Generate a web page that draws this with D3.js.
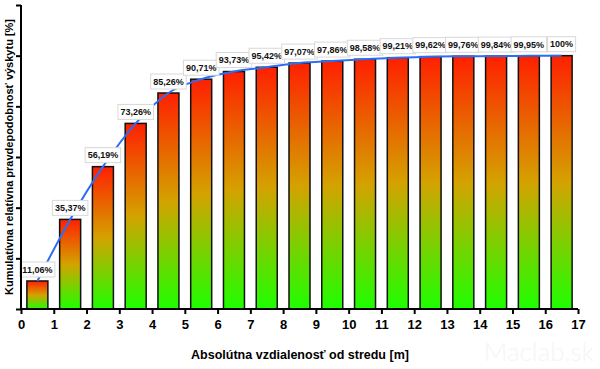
<!DOCTYPE html>
<html><head><meta charset="utf-8">
<script src="https://cdn.jsdelivr.net/npm/d3@7"></script>
<style>body{margin:0;background:#fff}svg{display:block;font-family:"Liberation Sans",Arial,sans-serif}</style>
</head><body><svg id="c" width="600" height="369"></svg>
<script>
const categories = [0.5,1.5,2.5,3.5,4.5,5.5,6.5,7.5,8.5,9.5,10.5,11.5,12.5,13.5,14.5,15.5,16.5];
const values = [11.06,35.37,56.19,73.26,85.26,90.71,93.73,95.42,97.07,97.86,98.58,99.21,99.62,99.76,99.84,99.95,100];
const labels = ["11,06%","35,37%","56,19%","73,26%","85,26%","90,71%","93,73%","95,42%","97,07%","97,86%","98,58%","99,21%","99,62%","99,76%","99,84%","99,95%","100%"];
const xTicks = [0,1,2,3,4,5,6,7,8,9,10,11,12,13,14,15,16,17];
const yTicks = [0,20,40,60,80,100,120];
const xTitle = "Absolútna vzdialenosť od stredu [m]";
const yTitle = "Kumulatívna relatívna pravdepodobnosť výskytu [%]";

const svg = d3.select("#c");
const x = d3.scaleLinear().domain([0,17]).range([21,578]);
const y = d3.scaleLinear().domain([0,120]).range([309,5]);
const barW = 21;

const defs = svg.append("defs");
const g = defs.append("linearGradient").attr("id","grad").attr("x1",0).attr("y1",0).attr("x2",0).attr("y2",1);
g.append("stop").attr("offset","0%").attr("stop-color","#ff2000");
g.append("stop").attr("offset","50%").attr("stop-color","#d4a200");
g.append("stop").attr("offset","100%").attr("stop-color","#1eff00");

// watermark
svg.append("text").attr("x",594).attr("y",361).attr("text-anchor","end")
  .attr("font-size",26).attr("fill","#f5f5f5").attr("font-family","Lato, sans-serif").attr("font-weight",300).text("Maclab.sk");

svg.selectAll("rect.bar").data(values).join("rect").attr("class","bar")
  .attr("x",(d,i)=>x(categories[i])-barW/2).attr("width",barW)
  .attr("y",d=>y(d)).attr("height",d=>y(0)-y(d))
  .attr("fill","url(#grad)").attr("stroke","#111").attr("stroke-width",1.5);

const line = d3.line().x((d,i)=>x(categories[i])).y(d=>y(d)).curve(d3.curveMonotoneX);
svg.append("path").attr("d",line(values)).attr("fill","none")
  .attr("stroke","#2f6cf5").attr("stroke-width",2);

// labels
const lg = svg.selectAll("g.lab").data(values).join("g").attr("class","lab")
  .attr("transform",(d,i)=>`translate(${x(categories[i])},${y(d)-11.5})`);
lg.append("rect").attr("class","bg");
lg.append("text").attr("text-anchor","middle").attr("dy","0.36em")
  .attr("font-size",9).attr("font-weight","bold").attr("fill","#111")
  .text((d,i)=>labels[i]);
lg.each(function(){
  const t = d3.select(this).select("text").node();
  const w = t.getComputedTextLength()+5;
  d3.select(this).select("rect").attr("x",-w/2).attr("y",-7.5).attr("width",w).attr("height",15)
    .attr("fill","#fff").attr("stroke","#d8d8d8").attr("stroke-width",1);
});

// axes
const xAxis = svg.append("g").attr("transform","translate(0,309)")
  .call(d3.axisBottom(x).tickValues(xTicks).tickSize(5).tickPadding(6).tickFormat(d3.format("d")));
const yAxis = svg.append("g").attr("transform","translate(21,0)")
  .call(d3.axisLeft(y).tickValues(yTicks).tickSize(5).tickFormat(""));
[xAxis,yAxis].forEach(a=>{
  a.select(".domain").attr("stroke","#000").attr("stroke-width",2);
  a.selectAll(".tick line").attr("stroke","#000").attr("stroke-width",2);
});
xAxis.selectAll("text").attr("font-size",13).attr("font-weight","bold").attr("fill","#000")
  .attr("font-family","\"Liberation Sans\",Arial,sans-serif");
xAxis.select(".domain").attr("d","M21,0H578");
yAxis.select(".domain").attr("d","M0,5V309");

svg.append("text").attr("x",300).attr("y",359).attr("text-anchor","middle")
  .attr("font-size",12.5).attr("font-weight","bold").text(xTitle);
svg.append("text").attr("transform","translate(13,157) rotate(-90)").attr("text-anchor","middle")
  .attr("font-size",11).attr("font-weight","bold").text(yTitle);
</script></body></html>
